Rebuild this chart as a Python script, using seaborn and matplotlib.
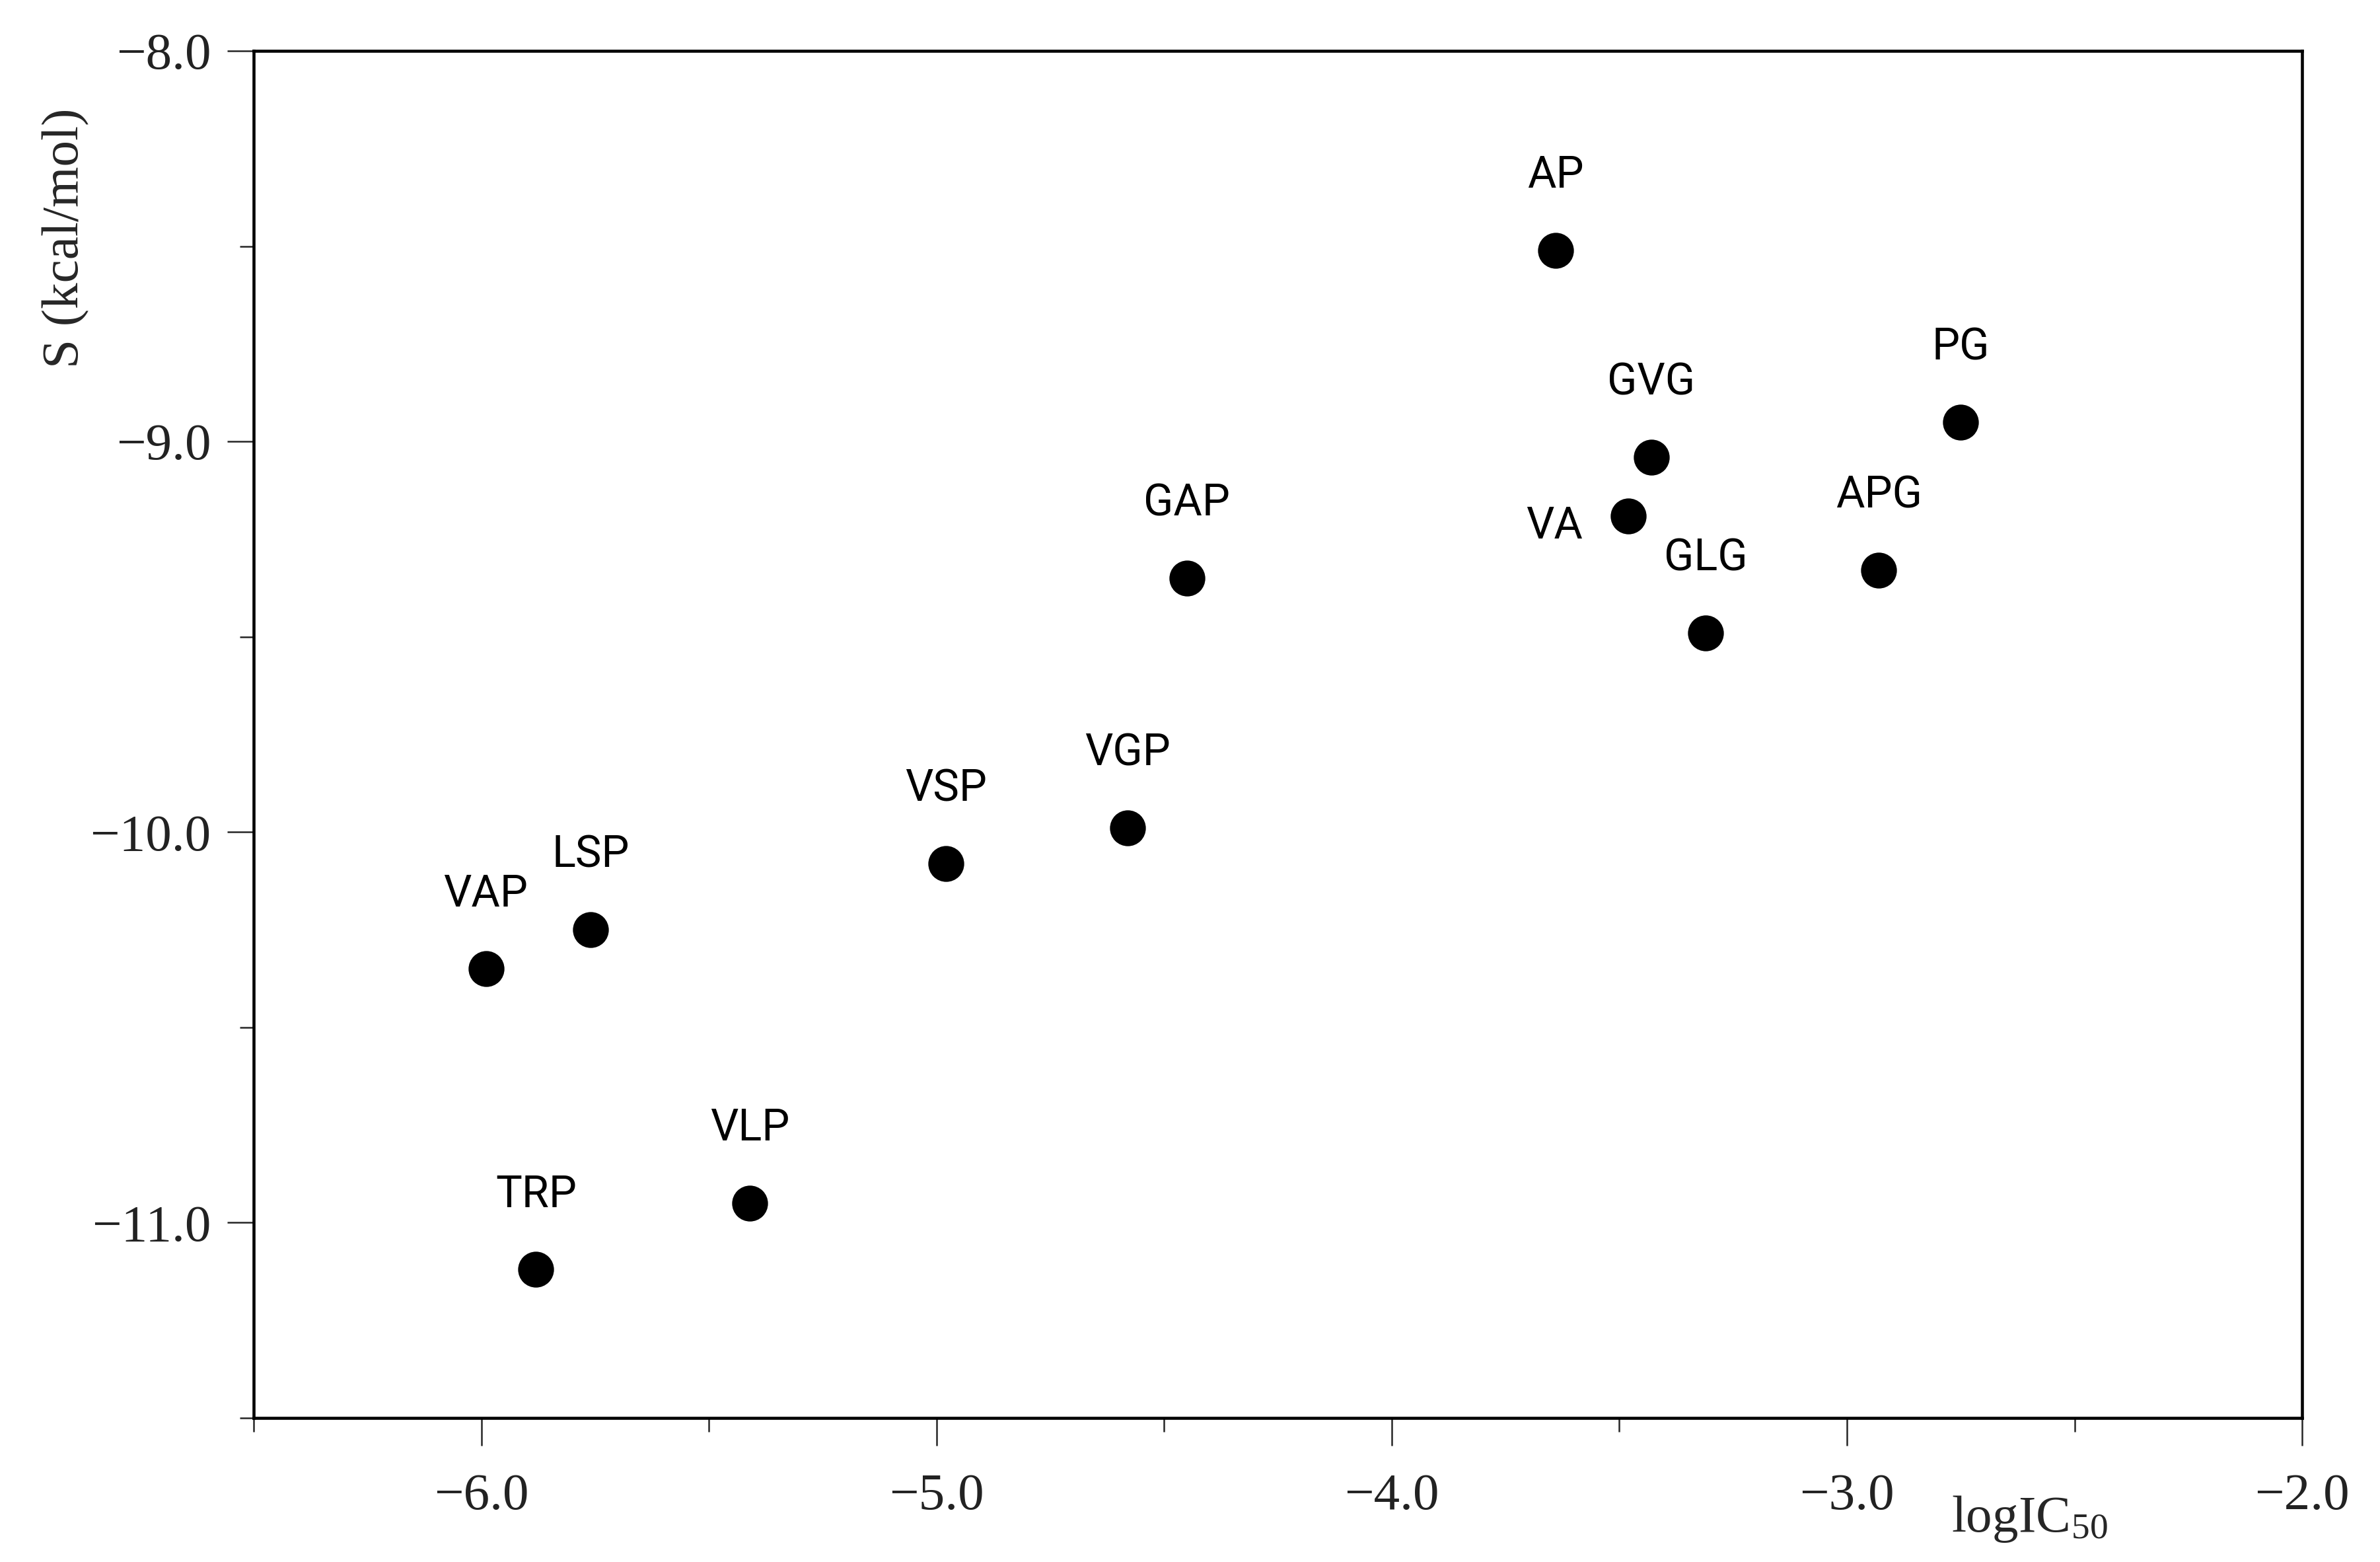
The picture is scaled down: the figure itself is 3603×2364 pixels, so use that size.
import numpy as np
import pandas as pd
import matplotlib
matplotlib.use("Agg")
import matplotlib.pyplot as plt
from matplotlib.ticker import MultipleLocator, FuncFormatter
import seaborn as sns

# dados
peptides = ["AP", "GVG", "PG", "VA", "APG", "GLG", "GAP",
            "VGP", "VSP", "LSP", "VAP", "VLP", "TRP"]
log_ic50 = [-3.64, -3.43, -2.75, -3.48, -2.93, -3.31, -4.45,
            -4.58, -4.98, -5.76, -5.99, -5.41, -5.88]
s_score = [-8.51, -9.04, -8.95, -9.19, -9.33, -9.49, -9.35,
           -9.99, -10.08, -10.25, -10.35, -10.95, -11.12]

df = pd.DataFrame({"peptide": peptides, "logIC50": log_ic50, "S": s_score})

sns.set_theme(style="ticks")
plt.rcParams["mathtext.fontset"] = "stix"
serif = ["Liberation Serif", "DejaVu Serif"]
sans = ["Roboto", "DejaVu Sans"]

fig = plt.figure(figsize=(3603 / 300, 2364 / 300), dpi=300)
ax = fig.add_axes([0.1066, 0.0922, 0.8607, 0.8752])

sns.scatterplot(data=df, x="logIC50", y="S", ax=ax, color="black",
                s=170, edgecolor="black", linewidth=0, legend=False, zorder=3)

# rotulos dos peptideos
for _, row in df.iterrows():
    if row["peptide"] == "VA":
        off = (-27, -4)
    else:
        off = (0, 27)
    ax.annotate(row["peptide"], (row["logIC50"], row["S"]),
                xytext=off, textcoords="offset points",
                ha="center", va="center", fontsize=16,
                family=sans, color="black")

ax.set_xlim(-6.5, -2.0)
ax.set_ylim(-11.5, -8.0)
ax.xaxis.set_major_locator(MultipleLocator(1.0))
ax.xaxis.set_minor_locator(MultipleLocator(0.5))
ax.yaxis.set_major_locator(MultipleLocator(1.0))
ax.yaxis.set_minor_locator(MultipleLocator(0.5))
fmt = FuncFormatter(lambda v, p: ("%.1f" % v).replace("-", "\u2212"))
ax.xaxis.set_major_formatter(fmt)
ax.yaxis.set_major_formatter(fmt)

for sp in ax.spines.values():
    sp.set_linewidth(1.1)
    sp.set_color("black")

ax.tick_params(axis="x", which="major", length=10, width=0.6, pad=10, labelsize=19)
ax.tick_params(axis="x", which="minor", length=5, width=0.6)
ax.tick_params(axis="y", which="major", length=9.5, width=0.6, pad=6, labelsize=19)
ax.tick_params(axis="y", which="minor", length=5, width=0.6)
for lab in ax.get_xticklabels() + ax.get_yticklabels():
    lab.set_family(serif)
    lab.set_color("#222222")

ax.set_xlabel("")
ax.text(0.867, -0.074, r"logIC$_{\mathregular{50}}$", transform=ax.transAxes,
        ha="center", va="center", fontsize=19, family=serif)
ax.set_ylabel("S (kcal/mol)", fontsize=19, family=serif, va="center")
ax.yaxis.set_label_coords(-0.0916, 0.863)

fig.savefig("out.png", dpi=300, facecolor="white")
